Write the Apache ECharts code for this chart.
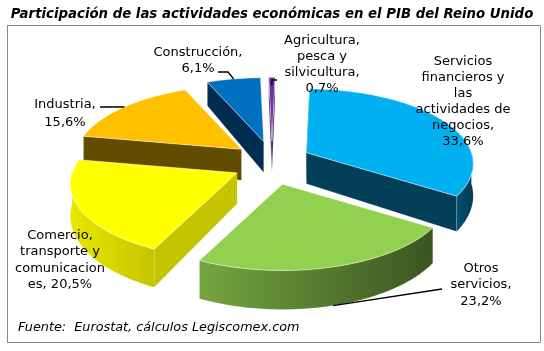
<!DOCTYPE html>
<html><head><meta charset="utf-8">
<script src="https://cdn.jsdelivr.net/npm/echarts@6/dist/echarts.min.js"></script>
<style>html,body{margin:0;padding:0;background:#fff}#c{width:544px;height:351px}</style>
</head><body><div id="c"></div>
<script>
// ---- data ----
const categories = ['Agricultura, pesca y silvicultura', 'Servicios financieros y las actividades de negocios', 'Otros servicios', 'Comercio, transporte y comunicaciones', 'Industria', 'Construcción'];
const values = [0.7, 33.6, 23.2, 20.5, 15.6, 6.1];
const labelTexts = ['Agricultura,\npesca y\nsilvicultura,\n0,7%', 'Servicios\nfinancieros y\nlas\nactividades de\nnegocios,\n33,6%', 'Otros\nservicios,\n23,2%', 'Comercio,\ntransporte y\ncomunicacion\nes, 20,5%', 'Industria,\n15,6%', 'Construcción,\n6,1%'];
const titleText = 'Participación de las actividades económicas en el PIB del Reino Unido';
const sourceText = 'Fuente:  Eurostat, cálculos Legiscomex.com';

// ---- styles / layout ----
const topColors = ['#7030A0', '#00B0F0', '#92D050', '#FFFF00', '#FFC000', '#0070C0'];
const sideColors = ['#3E1A5C', '#02405A', '#5A8A30', '#C4C400', '#624C00', '#012E50'];
const wallColors = [['#4a2270', '#3a1a58'], ['#045070', '#023a52'], ['#76A540', '#3A5520'], ['#E8E800', '#C4C400'], ['#6a5200', '#5a4500'], ['#013560', '#012840']];
const labelLayout = [
  {x: 322, y: 65, lh: 16, leader: [[277, 80], [272, 80]], lr: 0.85, lz: 0},
  {x: 463, y: 102, lh: 16},
  {x: 481, y: 285, lh: 16.5, leader: [[442, 289]], lr: 1, lz: 1},
  {x: 60, y: 260, lh: 16.3},
  {x: 65, y: 114, lh: 18, leader: [[100, 107], [124, 107]], lr: 1, lz: 0},
  {x: 198, y: 61, lh: 16, leader: [[218, 72], [228, 72]], lr: 1, lz: 0}
];
const G = {cx: 272, cy: 163, sx: 165, sy: 75, p: 0.15, ex: 39, ey: 22, d0: 31, d1: 8, start: -1.3};
const FONT = 'DejaVu Sans';

// ---- geometry derived from data ----
const total = values.reduce((s, v) => s + v, 0);
const angles = [];
(function () {
  let a = G.start * Math.PI / 180;
  values.forEach(v => { const b = a + v / total * 2 * Math.PI; angles.push([a, b]); a = b; });
})();
function expl(i) {
  const mid = (angles[i][0] + angles[i][1]) / 2;
  return [G.ex * Math.sin(mid), -G.ey * Math.cos(mid)];
}
function proj(th, r, z, o) {
  const X = Math.sin(th) * r, Y = -Math.cos(th) * r;
  const f = 1 + G.p * Y;
  return [G.cx + X * G.sx * f + o[0], G.cy + Y * G.sy * f + o[1] + z * (G.d0 + G.d1 * Y)];
}
function arc(a, b, z, o) {
  const pts = [];
  const n = Math.max(2, Math.ceil((b - a) / (Math.PI / 180)));
  for (let k = 0; k <= n; k++) pts.push(proj(a + (b - a) * k / n, 1, z, o));
  return pts;
}
const order = values.map((v, i) => i).sort((p, q) => expl(p)[1] - expl(q)[1]);

function renderItem(params, api) {
  const i = params.dataIndex;
  const a0 = angles[i][0], a1 = angles[i][1];
  const o = expl(i);
  const base = order.indexOf(i) * 10;
  const children = [];
  const C = [0, 1 / G.p];
  // radial faces
  [[a0, -1], [a1, 1]].forEach(([a, s]) => {
    const n = [s * Math.cos(a), s * Math.sin(a)];
    const P = [0.5 * Math.sin(a) + o[0] / G.sx, -0.5 * Math.cos(a) + o[1] / G.sy];
    const dot = n[0] * (C[0] - P[0]) + n[1] * (C[1] - P[1]);
    if (dot > 0) {
      children.push({type: 'polygon', z2: base + 1,
        shape: {points: [proj(a, 0, 0, o), proj(a, 1, 0, o), proj(a, 1, 1, o), proj(a, 0, 1, o)]},
        style: {fill: sideColors[i], stroke: 'rgba(255,255,255,0.25)', lineWidth: 0.6}});
    }
  });
  // outer wall (front half)
  const lo = Math.max(a0, Math.PI / 2), hi = Math.min(a1, 3 * Math.PI / 2);
  if (hi > lo) {
    const pts = arc(lo, hi, 0, o).concat(arc(lo, hi, 1, o).reverse());
    children.push({type: 'polygon', z2: base + 2, shape: {points: pts},
      style: {fill: {type: 'linear', x: 0, y: 0, x2: 1, y2: 0,
        colorStops: [{offset: 0, color: wallColors[i][0]}, {offset: 1, color: wallColors[i][1]}]},
        stroke: 'rgba(255,255,255,0.25)', lineWidth: 0.6}});
  }
  // top face
  const topPts = [proj(0, 0, 0, o)].concat(arc(a0, a1, 0, o));
  children.push({type: 'polygon', z2: base + 3, shape: {points: topPts},
    style: {fill: topColors[i], stroke: 'rgba(255,255,255,0.55)', lineWidth: 0.8}});
  // label
  const L = labelLayout[i];
  children.push({type: 'text', z2: 200,
    style: {text: labelTexts[i], x: L.x, y: L.y, align: 'center', verticalAlign: 'middle',
      fontFamily: FONT, fontSize: 13, lineHeight: L.lh, fill: '#000'}});
  if (L.leader) {
    const mid = (a0 + a1) / 2;
    const end = proj(mid, L.lr, L.lz, o);
    children.push({type: 'polyline', z2: 150, shape: {points: L.leader.concat([end])},
      style: {stroke: '#000', lineWidth: 1.3, fill: null}});
  }
  return {type: 'group', children: children};
}

const chart = echarts.init(document.getElementById('c'), null, {renderer: 'canvas'});
chart.setOption({
  animation: false,
  backgroundColor: '#fff',
  title: {text: titleText, left: 'center', top: 3,
    textStyle: {fontFamily: FONT, fontSize: 13.3, fontWeight: 'bold', fontStyle: 'italic', color: '#000'}},
  graphic: [
    {type: 'rect', z: -1, shape: {x: 7.5, y: 25.5, width: 533, height: 317},
      style: {fill: '#fff', stroke: '#8a8a8a', lineWidth: 1}},
    {type: 'text', z: 10, style: {text: sourceText, x: 18, y: 328, verticalAlign: 'middle',
      fontFamily: FONT, fontSize: 12.8, fontStyle: 'italic', fill: '#000'}}
  ],
  series: [{
    type: 'custom', coordinateSystem: 'none', silent: true,
    data: values.map((v, i) => ({name: categories[i], value: v})),
    renderItem: renderItem
  }]
});
</script></body></html>
